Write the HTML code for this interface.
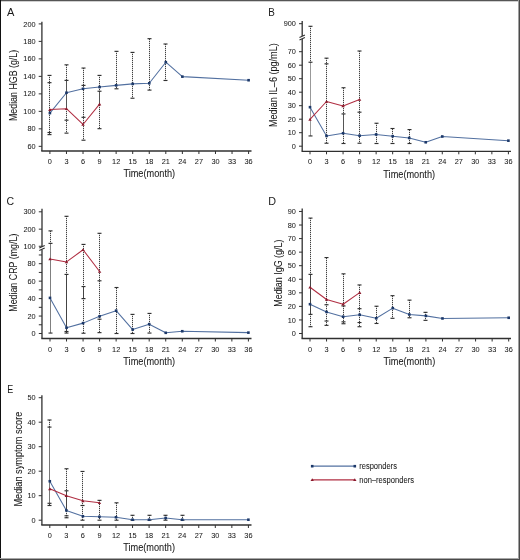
<!DOCTYPE html>
<html><head><meta charset="utf-8"><style>
html,body{margin:0;padding:0;background:#fff;}
svg{display:block;will-change:transform;}
text{font-family:"Liberation Sans", sans-serif;fill:#1a1a1a;stroke:#1a1a1a;stroke-width:0.06px;}
.lb{stroke-width:0;}
.tk{stroke-width:0.05px;}
</style></head><body>
<svg width="520" height="560" viewBox="0 0 520 560">
<rect x="0" y="0" width="520" height="560" fill="#fff"/>
<line x1="41.9" y1="21.7" x2="41.9" y2="151" stroke="#303030" stroke-width="1.3"/>
<line x1="41.25" y1="151" x2="251.5" y2="151" stroke="#303030" stroke-width="1.3"/>
<line x1="38.699999999999996" y1="146.33" x2="41.9" y2="146.33" stroke="#303030" stroke-width="1"/>
<text transform="translate(35.60,148.93) scale(0.92,1.0)" text-anchor="end" font-size="8.0" class="tk">60</text>
<line x1="38.699999999999996" y1="128.84" x2="41.9" y2="128.84" stroke="#303030" stroke-width="1"/>
<text transform="translate(35.60,131.44) scale(0.92,1.0)" text-anchor="end" font-size="8.0" class="tk">80</text>
<line x1="38.699999999999996" y1="111.35" x2="41.9" y2="111.35" stroke="#303030" stroke-width="1"/>
<text transform="translate(35.60,113.95) scale(0.92,1.0)" text-anchor="end" font-size="8.0" class="tk">100</text>
<line x1="38.699999999999996" y1="93.86" x2="41.9" y2="93.86" stroke="#303030" stroke-width="1"/>
<text transform="translate(35.60,96.46) scale(0.92,1.0)" text-anchor="end" font-size="8.0" class="tk">120</text>
<line x1="38.699999999999996" y1="76.37" x2="41.9" y2="76.37" stroke="#303030" stroke-width="1"/>
<text transform="translate(35.60,78.97) scale(0.92,1.0)" text-anchor="end" font-size="8.0" class="tk">140</text>
<line x1="38.699999999999996" y1="58.88" x2="41.9" y2="58.88" stroke="#303030" stroke-width="1"/>
<text transform="translate(35.60,61.48) scale(0.92,1.0)" text-anchor="end" font-size="8.0" class="tk">160</text>
<line x1="38.699999999999996" y1="41.39" x2="41.9" y2="41.39" stroke="#303030" stroke-width="1"/>
<text transform="translate(35.60,43.99) scale(0.92,1.0)" text-anchor="end" font-size="8.0" class="tk">180</text>
<line x1="38.699999999999996" y1="23.90" x2="41.9" y2="23.90" stroke="#303030" stroke-width="1"/>
<text transform="translate(35.60,26.50) scale(0.92,1.0)" text-anchor="end" font-size="8.0" class="tk">200</text>
<line x1="49.90" y1="151" x2="49.90" y2="154" stroke="#303030" stroke-width="1"/>
<text transform="translate(49.90,164.00) scale(0.92,1.0)" text-anchor="middle" font-size="8.0" class="tk">0</text>
<line x1="66.46" y1="151" x2="66.46" y2="154" stroke="#303030" stroke-width="1"/>
<text transform="translate(66.46,164.00) scale(0.92,1.0)" text-anchor="middle" font-size="8.0" class="tk">3</text>
<line x1="83.02" y1="151" x2="83.02" y2="154" stroke="#303030" stroke-width="1"/>
<text transform="translate(83.02,164.00) scale(0.92,1.0)" text-anchor="middle" font-size="8.0" class="tk">6</text>
<line x1="99.57" y1="151" x2="99.57" y2="154" stroke="#303030" stroke-width="1"/>
<text transform="translate(99.57,164.00) scale(0.92,1.0)" text-anchor="middle" font-size="8.0" class="tk">9</text>
<line x1="116.13" y1="151" x2="116.13" y2="154" stroke="#303030" stroke-width="1"/>
<text transform="translate(116.13,164.00) scale(0.92,1.0)" text-anchor="middle" font-size="8.0" class="tk">12</text>
<line x1="132.69" y1="151" x2="132.69" y2="154" stroke="#303030" stroke-width="1"/>
<text transform="translate(132.69,164.00) scale(0.92,1.0)" text-anchor="middle" font-size="8.0" class="tk">15</text>
<line x1="149.25" y1="151" x2="149.25" y2="154" stroke="#303030" stroke-width="1"/>
<text transform="translate(149.25,164.00) scale(0.92,1.0)" text-anchor="middle" font-size="8.0" class="tk">18</text>
<line x1="165.81" y1="151" x2="165.81" y2="154" stroke="#303030" stroke-width="1"/>
<text transform="translate(165.81,164.00) scale(0.92,1.0)" text-anchor="middle" font-size="8.0" class="tk">21</text>
<line x1="182.37" y1="151" x2="182.37" y2="154" stroke="#303030" stroke-width="1"/>
<text transform="translate(182.37,164.00) scale(0.92,1.0)" text-anchor="middle" font-size="8.0" class="tk">24</text>
<line x1="198.92" y1="151" x2="198.92" y2="154" stroke="#303030" stroke-width="1"/>
<text transform="translate(198.92,164.00) scale(0.92,1.0)" text-anchor="middle" font-size="8.0" class="tk">27</text>
<line x1="215.48" y1="151" x2="215.48" y2="154" stroke="#303030" stroke-width="1"/>
<text transform="translate(215.48,164.00) scale(0.92,1.0)" text-anchor="middle" font-size="8.0" class="tk">30</text>
<line x1="232.04" y1="151" x2="232.04" y2="154" stroke="#303030" stroke-width="1"/>
<text transform="translate(232.04,164.00) scale(0.92,1.0)" text-anchor="middle" font-size="8.0" class="tk">33</text>
<line x1="248.60" y1="151" x2="248.60" y2="154" stroke="#303030" stroke-width="1"/>
<text transform="translate(248.60,164.00) scale(0.92,1.0)" text-anchor="middle" font-size="8.0" class="tk">36</text>
<text transform="translate(149.25,177.30) scale(0.92,1.0)" text-anchor="middle" font-size="10.0">Time(month)</text>
<text transform="translate(16.9,85.45) rotate(-90)" text-anchor="middle" font-size="10.8" textLength="71.2" lengthAdjust="spacingAndGlyphs">Median HGB (g/L)</text>
<text x="7.0" y="15.8" class="lb" font-size="11.3" textLength="7.4" lengthAdjust="spacingAndGlyphs">A</text>
<line x1="49.5" y1="75" x2="49.5" y2="135" stroke="#d4d4d4" stroke-width="1"/>
<line x1="49.5" y1="75" x2="49.5" y2="135" stroke="#404040" stroke-width="1" stroke-dasharray="1 1"/>
<line x1="47.50" y1="134.61" x2="51.50" y2="134.61" stroke="#303030" stroke-width="1.15"/>
<line x1="47.50" y1="132.51" x2="51.50" y2="132.51" stroke="#303030" stroke-width="1.15"/>
<line x1="47.50" y1="82.67" x2="51.50" y2="82.67" stroke="#303030" stroke-width="1.15"/>
<line x1="47.50" y1="75.41" x2="51.50" y2="75.41" stroke="#303030" stroke-width="1.15"/>
<line x1="66.5" y1="65" x2="66.5" y2="133" stroke="#d4d4d4" stroke-width="1"/>
<line x1="66.5" y1="65" x2="66.5" y2="133" stroke="#404040" stroke-width="1" stroke-dasharray="1 1"/>
<line x1="66.5" y1="80.39" x2="66.5" y2="108.73" stroke="#555" stroke-width="1"/>
<line x1="64.50" y1="133.13" x2="68.50" y2="133.13" stroke="#303030" stroke-width="1.15"/>
<line x1="64.50" y1="120.18" x2="68.50" y2="120.18" stroke="#303030" stroke-width="1.15"/>
<line x1="64.50" y1="80.39" x2="68.50" y2="80.39" stroke="#303030" stroke-width="1.15"/>
<line x1="64.50" y1="64.83" x2="68.50" y2="64.83" stroke="#303030" stroke-width="1.15"/>
<line x1="83.5" y1="68" x2="83.5" y2="140" stroke="#d4d4d4" stroke-width="1"/>
<line x1="83.5" y1="68" x2="83.5" y2="140" stroke="#404040" stroke-width="1" stroke-dasharray="1 1"/>
<line x1="81.50" y1="140.21" x2="85.50" y2="140.21" stroke="#303030" stroke-width="1.15"/>
<line x1="81.50" y1="117.30" x2="85.50" y2="117.30" stroke="#303030" stroke-width="1.15"/>
<line x1="81.50" y1="85.38" x2="85.50" y2="85.38" stroke="#303030" stroke-width="1.15"/>
<line x1="81.50" y1="68.06" x2="85.50" y2="68.06" stroke="#303030" stroke-width="1.15"/>
<line x1="99.5" y1="75" x2="99.5" y2="129" stroke="#d4d4d4" stroke-width="1"/>
<line x1="99.5" y1="75" x2="99.5" y2="129" stroke="#404040" stroke-width="1" stroke-dasharray="1 1"/>
<line x1="99.5" y1="91.24" x2="99.5" y2="104.35" stroke="#555" stroke-width="1"/>
<line x1="97.50" y1="128.67" x2="101.50" y2="128.67" stroke="#303030" stroke-width="1.15"/>
<line x1="97.50" y1="91.24" x2="101.50" y2="91.24" stroke="#303030" stroke-width="1.15"/>
<line x1="97.50" y1="75.41" x2="101.50" y2="75.41" stroke="#303030" stroke-width="1.15"/>
<line x1="116.5" y1="51" x2="116.5" y2="89" stroke="#d4d4d4" stroke-width="1"/>
<line x1="116.5" y1="51" x2="116.5" y2="89" stroke="#404040" stroke-width="1" stroke-dasharray="1 1"/>
<line x1="114.50" y1="88.79" x2="118.50" y2="88.79" stroke="#303030" stroke-width="1.15"/>
<line x1="114.50" y1="51.36" x2="118.50" y2="51.36" stroke="#303030" stroke-width="1.15"/>
<line x1="132.5" y1="52" x2="132.5" y2="98" stroke="#d4d4d4" stroke-width="1"/>
<line x1="132.5" y1="52" x2="132.5" y2="98" stroke="#404040" stroke-width="1" stroke-dasharray="1 1"/>
<line x1="130.50" y1="98.23" x2="134.50" y2="98.23" stroke="#303030" stroke-width="1.15"/>
<line x1="130.50" y1="52.41" x2="134.50" y2="52.41" stroke="#303030" stroke-width="1.15"/>
<line x1="149.5" y1="39" x2="149.5" y2="90" stroke="#d4d4d4" stroke-width="1"/>
<line x1="149.5" y1="39" x2="149.5" y2="90" stroke="#404040" stroke-width="1" stroke-dasharray="1 1"/>
<line x1="147.50" y1="90.10" x2="151.50" y2="90.10" stroke="#303030" stroke-width="1.15"/>
<line x1="147.50" y1="38.68" x2="151.50" y2="38.68" stroke="#303030" stroke-width="1.15"/>
<line x1="165.5" y1="44" x2="165.5" y2="80" stroke="#d4d4d4" stroke-width="1"/>
<line x1="165.5" y1="44" x2="165.5" y2="80" stroke="#404040" stroke-width="1" stroke-dasharray="1 1"/>
<line x1="163.50" y1="80.48" x2="167.50" y2="80.48" stroke="#303030" stroke-width="1.15"/>
<line x1="163.50" y1="44.01" x2="167.50" y2="44.01" stroke="#303030" stroke-width="1.15"/>
<polyline points="49.90,113.10 66.46,92.72 83.02,88.79 99.57,87.04 116.13,85.38 132.69,83.89 149.25,83.28 165.81,62.20 182.37,76.63 248.60,80.22" fill="none" stroke="#5270a0" stroke-width="1.05" stroke-linejoin="round"/>
<rect x="48.60" y="111.80" width="2.6" height="2.6" fill="#1c3869"/>
<rect x="65.16" y="91.42" width="2.6" height="2.6" fill="#1c3869"/>
<rect x="81.72" y="87.49" width="2.6" height="2.6" fill="#1c3869"/>
<rect x="98.27" y="85.74" width="2.6" height="2.6" fill="#1c3869"/>
<rect x="114.83" y="84.08" width="2.6" height="2.6" fill="#1c3869"/>
<rect x="131.39" y="82.59" width="2.6" height="2.6" fill="#1c3869"/>
<rect x="147.95" y="81.98" width="2.6" height="2.6" fill="#1c3869"/>
<rect x="164.51" y="60.90" width="2.6" height="2.6" fill="#1c3869"/>
<rect x="181.07" y="75.33" width="2.6" height="2.6" fill="#1c3869"/>
<rect x="247.30" y="78.92" width="2.6" height="2.6" fill="#1c3869"/>
<polyline points="49.90,109.60 66.46,108.73 83.02,124.47 99.57,104.18" fill="none" stroke="#b02e42" stroke-width="1.05" stroke-linejoin="round"/>
<path d="M48.20,110.90 L49.90,108.00 L51.60,110.90Z" fill="#8a1a2c"/>
<path d="M64.76,110.03 L66.46,107.13 L68.16,110.03Z" fill="#8a1a2c"/>
<path d="M81.32,125.77 L83.02,122.87 L84.72,125.77Z" fill="#8a1a2c"/>
<path d="M97.87,105.48 L99.57,102.58 L101.27,105.48Z" fill="#8a1a2c"/>
<line x1="302.2" y1="21" x2="302.2" y2="36.1" stroke="#303030" stroke-width="1.3"/>
<line x1="302.2" y1="38.9" x2="302.2" y2="151.3" stroke="#303030" stroke-width="1.3"/>
<line x1="299.5" y1="37.45" x2="304.9" y2="35.05" stroke="#303030" stroke-width="1.1"/>
<line x1="299.5" y1="39.95" x2="304.9" y2="37.55" stroke="#303030" stroke-width="1.1"/>
<line x1="301.55" y1="151.3" x2="511" y2="151.3" stroke="#303030" stroke-width="1.3"/>
<line x1="299.0" y1="23.70" x2="302.2" y2="23.70" stroke="#303030" stroke-width="1"/>
<text transform="translate(295.90,26.30) scale(0.92,1.0)" text-anchor="end" font-size="8.0" class="tk">900</text>
<line x1="299.0" y1="146.20" x2="302.2" y2="146.20" stroke="#303030" stroke-width="1"/>
<text transform="translate(295.90,148.80) scale(0.92,1.0)" text-anchor="end" font-size="8.0" class="tk">0</text>
<line x1="299.0" y1="132.70" x2="302.2" y2="132.70" stroke="#303030" stroke-width="1"/>
<text transform="translate(295.90,135.30) scale(0.92,1.0)" text-anchor="end" font-size="8.0" class="tk">10</text>
<line x1="299.0" y1="119.20" x2="302.2" y2="119.20" stroke="#303030" stroke-width="1"/>
<text transform="translate(295.90,121.80) scale(0.92,1.0)" text-anchor="end" font-size="8.0" class="tk">20</text>
<line x1="299.0" y1="105.70" x2="302.2" y2="105.70" stroke="#303030" stroke-width="1"/>
<text transform="translate(295.90,108.30) scale(0.92,1.0)" text-anchor="end" font-size="8.0" class="tk">30</text>
<line x1="299.0" y1="92.20" x2="302.2" y2="92.20" stroke="#303030" stroke-width="1"/>
<text transform="translate(295.90,94.80) scale(0.92,1.0)" text-anchor="end" font-size="8.0" class="tk">40</text>
<line x1="299.0" y1="78.70" x2="302.2" y2="78.70" stroke="#303030" stroke-width="1"/>
<text transform="translate(295.90,81.30) scale(0.92,1.0)" text-anchor="end" font-size="8.0" class="tk">50</text>
<line x1="299.0" y1="65.20" x2="302.2" y2="65.20" stroke="#303030" stroke-width="1"/>
<text transform="translate(295.90,67.80) scale(0.92,1.0)" text-anchor="end" font-size="8.0" class="tk">60</text>
<line x1="299.0" y1="51.70" x2="302.2" y2="51.70" stroke="#303030" stroke-width="1"/>
<text transform="translate(295.90,54.30) scale(0.92,1.0)" text-anchor="end" font-size="8.0" class="tk">70</text>
<line x1="310.00" y1="151.3" x2="310.00" y2="154.3" stroke="#303030" stroke-width="1"/>
<text transform="translate(310.00,164.30) scale(0.92,1.0)" text-anchor="middle" font-size="8.0" class="tk">0</text>
<line x1="326.53" y1="151.3" x2="326.53" y2="154.3" stroke="#303030" stroke-width="1"/>
<text transform="translate(326.53,164.30) scale(0.92,1.0)" text-anchor="middle" font-size="8.0" class="tk">3</text>
<line x1="343.07" y1="151.3" x2="343.07" y2="154.3" stroke="#303030" stroke-width="1"/>
<text transform="translate(343.07,164.30) scale(0.92,1.0)" text-anchor="middle" font-size="8.0" class="tk">6</text>
<line x1="359.60" y1="151.3" x2="359.60" y2="154.3" stroke="#303030" stroke-width="1"/>
<text transform="translate(359.60,164.30) scale(0.92,1.0)" text-anchor="middle" font-size="8.0" class="tk">9</text>
<line x1="376.13" y1="151.3" x2="376.13" y2="154.3" stroke="#303030" stroke-width="1"/>
<text transform="translate(376.13,164.30) scale(0.92,1.0)" text-anchor="middle" font-size="8.0" class="tk">12</text>
<line x1="392.67" y1="151.3" x2="392.67" y2="154.3" stroke="#303030" stroke-width="1"/>
<text transform="translate(392.67,164.30) scale(0.92,1.0)" text-anchor="middle" font-size="8.0" class="tk">15</text>
<line x1="409.20" y1="151.3" x2="409.20" y2="154.3" stroke="#303030" stroke-width="1"/>
<text transform="translate(409.20,164.30) scale(0.92,1.0)" text-anchor="middle" font-size="8.0" class="tk">18</text>
<line x1="425.73" y1="151.3" x2="425.73" y2="154.3" stroke="#303030" stroke-width="1"/>
<text transform="translate(425.73,164.30) scale(0.92,1.0)" text-anchor="middle" font-size="8.0" class="tk">21</text>
<line x1="442.27" y1="151.3" x2="442.27" y2="154.3" stroke="#303030" stroke-width="1"/>
<text transform="translate(442.27,164.30) scale(0.92,1.0)" text-anchor="middle" font-size="8.0" class="tk">24</text>
<line x1="458.80" y1="151.3" x2="458.80" y2="154.3" stroke="#303030" stroke-width="1"/>
<text transform="translate(458.80,164.30) scale(0.92,1.0)" text-anchor="middle" font-size="8.0" class="tk">27</text>
<line x1="475.33" y1="151.3" x2="475.33" y2="154.3" stroke="#303030" stroke-width="1"/>
<text transform="translate(475.33,164.30) scale(0.92,1.0)" text-anchor="middle" font-size="8.0" class="tk">30</text>
<line x1="491.87" y1="151.3" x2="491.87" y2="154.3" stroke="#303030" stroke-width="1"/>
<text transform="translate(491.87,164.30) scale(0.92,1.0)" text-anchor="middle" font-size="8.0" class="tk">33</text>
<line x1="508.40" y1="151.3" x2="508.40" y2="154.3" stroke="#303030" stroke-width="1"/>
<text transform="translate(508.40,164.30) scale(0.92,1.0)" text-anchor="middle" font-size="8.0" class="tk">36</text>
<text transform="translate(409.20,177.60) scale(0.92,1.0)" text-anchor="middle" font-size="10.0">Time(month)</text>
<text transform="translate(277.1,85.15) rotate(-90)" text-anchor="middle" font-size="10.8" textLength="83.8" lengthAdjust="spacingAndGlyphs">Median IL–6 (pg/mL)</text>
<text x="268.3" y="15.7" class="lb" font-size="11.3" textLength="6.6" lengthAdjust="spacingAndGlyphs">B</text>
<line x1="310.5" y1="26" x2="310.5" y2="136" stroke="#d4d4d4" stroke-width="1"/>
<line x1="310.5" y1="26" x2="310.5" y2="136" stroke="#404040" stroke-width="1" stroke-dasharray="1 1"/>
<line x1="310.5" y1="62.23" x2="310.5" y2="135.94" stroke="#999" stroke-width="1"/>
<line x1="308.50" y1="135.94" x2="312.50" y2="135.94" stroke="#303030" stroke-width="1.15"/>
<line x1="308.50" y1="62.23" x2="312.50" y2="62.23" stroke="#303030" stroke-width="1.15"/>
<line x1="308.50" y1="26.30" x2="312.50" y2="26.30" stroke="#303030" stroke-width="1.15"/>
<line x1="326.5" y1="58" x2="326.5" y2="143" stroke="#d4d4d4" stroke-width="1"/>
<line x1="326.5" y1="58" x2="326.5" y2="143" stroke="#404040" stroke-width="1" stroke-dasharray="1 1"/>
<line x1="324.50" y1="143.23" x2="328.50" y2="143.23" stroke="#303030" stroke-width="1.15"/>
<line x1="324.50" y1="63.85" x2="328.50" y2="63.85" stroke="#303030" stroke-width="1.15"/>
<line x1="324.50" y1="58.18" x2="328.50" y2="58.18" stroke="#303030" stroke-width="1.15"/>
<line x1="343.5" y1="88" x2="343.5" y2="144" stroke="#d4d4d4" stroke-width="1"/>
<line x1="343.5" y1="88" x2="343.5" y2="144" stroke="#404040" stroke-width="1" stroke-dasharray="1 1"/>
<line x1="343.5" y1="113.93" x2="343.5" y2="133.24" stroke="#555" stroke-width="1"/>
<line x1="341.50" y1="143.50" x2="345.50" y2="143.50" stroke="#303030" stroke-width="1.15"/>
<line x1="341.50" y1="113.93" x2="345.50" y2="113.93" stroke="#303030" stroke-width="1.15"/>
<line x1="341.50" y1="87.74" x2="345.50" y2="87.74" stroke="#303030" stroke-width="1.15"/>
<line x1="359.5" y1="51" x2="359.5" y2="143" stroke="#d4d4d4" stroke-width="1"/>
<line x1="359.5" y1="51" x2="359.5" y2="143" stroke="#404040" stroke-width="1" stroke-dasharray="1 1"/>
<line x1="357.50" y1="143.23" x2="361.50" y2="143.23" stroke="#303030" stroke-width="1.15"/>
<line x1="357.50" y1="112.18" x2="361.50" y2="112.18" stroke="#303030" stroke-width="1.15"/>
<line x1="357.50" y1="51.02" x2="361.50" y2="51.02" stroke="#303030" stroke-width="1.15"/>
<line x1="376.5" y1="123" x2="376.5" y2="144" stroke="#d4d4d4" stroke-width="1"/>
<line x1="376.5" y1="123" x2="376.5" y2="144" stroke="#404040" stroke-width="1" stroke-dasharray="1 1"/>
<line x1="374.50" y1="143.50" x2="378.50" y2="143.50" stroke="#303030" stroke-width="1.15"/>
<line x1="374.50" y1="123.25" x2="378.50" y2="123.25" stroke="#303030" stroke-width="1.15"/>
<line x1="392.5" y1="129" x2="392.5" y2="144" stroke="#d4d4d4" stroke-width="1"/>
<line x1="392.5" y1="129" x2="392.5" y2="144" stroke="#404040" stroke-width="1" stroke-dasharray="1 1"/>
<line x1="390.50" y1="143.50" x2="394.50" y2="143.50" stroke="#303030" stroke-width="1.15"/>
<line x1="390.50" y1="128.51" x2="394.50" y2="128.51" stroke="#303030" stroke-width="1.15"/>
<line x1="409.5" y1="130" x2="409.5" y2="144" stroke="#d4d4d4" stroke-width="1"/>
<line x1="409.5" y1="130" x2="409.5" y2="144" stroke="#404040" stroke-width="1" stroke-dasharray="1 1"/>
<line x1="407.50" y1="143.50" x2="411.50" y2="143.50" stroke="#303030" stroke-width="1.15"/>
<line x1="407.50" y1="129.59" x2="411.50" y2="129.59" stroke="#303030" stroke-width="1.15"/>
<polyline points="310.00,107.18 326.53,135.94 343.07,133.24 359.60,135.67 376.13,134.45 392.67,136.21 409.20,137.96 425.73,142.28 442.27,136.48 508.40,140.66" fill="none" stroke="#5270a0" stroke-width="1.05" stroke-linejoin="round"/>
<rect x="308.70" y="105.88" width="2.6" height="2.6" fill="#1c3869"/>
<rect x="325.23" y="134.64" width="2.6" height="2.6" fill="#1c3869"/>
<rect x="341.77" y="131.94" width="2.6" height="2.6" fill="#1c3869"/>
<rect x="358.30" y="134.37" width="2.6" height="2.6" fill="#1c3869"/>
<rect x="374.83" y="133.15" width="2.6" height="2.6" fill="#1c3869"/>
<rect x="391.37" y="134.91" width="2.6" height="2.6" fill="#1c3869"/>
<rect x="407.90" y="136.66" width="2.6" height="2.6" fill="#1c3869"/>
<rect x="424.43" y="140.98" width="2.6" height="2.6" fill="#1c3869"/>
<rect x="440.97" y="135.18" width="2.6" height="2.6" fill="#1c3869"/>
<rect x="507.10" y="139.36" width="2.6" height="2.6" fill="#1c3869"/>
<polyline points="310.00,119.47 326.53,101.51 343.07,105.97 359.60,99.49" fill="none" stroke="#b02e42" stroke-width="1.05" stroke-linejoin="round"/>
<path d="M308.30,120.77 L310.00,117.87 L311.70,120.77Z" fill="#8a1a2c"/>
<path d="M324.83,102.81 L326.53,99.91 L328.23,102.81Z" fill="#8a1a2c"/>
<path d="M341.37,107.27 L343.07,104.37 L344.77,107.27Z" fill="#8a1a2c"/>
<path d="M357.90,100.79 L359.60,97.89 L361.30,100.79Z" fill="#8a1a2c"/>
<line x1="42" y1="208.7" x2="42" y2="246.6" stroke="#303030" stroke-width="1.3"/>
<line x1="42" y1="249.4" x2="42" y2="338.5" stroke="#303030" stroke-width="1.3"/>
<line x1="39.3" y1="247.95" x2="44.7" y2="245.55" stroke="#303030" stroke-width="1.1"/>
<line x1="39.3" y1="250.45" x2="44.7" y2="248.05" stroke="#303030" stroke-width="1.1"/>
<line x1="41.35" y1="338.5" x2="251.5" y2="338.5" stroke="#303030" stroke-width="1.3"/>
<line x1="38.8" y1="211.80" x2="42" y2="211.80" stroke="#303030" stroke-width="1"/>
<text transform="translate(35.70,214.40) scale(0.92,1.0)" text-anchor="end" font-size="8.0" class="tk">300</text>
<line x1="38.8" y1="229.15" x2="42" y2="229.15" stroke="#303030" stroke-width="1"/>
<text transform="translate(35.70,231.75) scale(0.92,1.0)" text-anchor="end" font-size="8.0" class="tk">200</text>
<line x1="38.8" y1="333.50" x2="42" y2="333.50" stroke="#303030" stroke-width="1"/>
<text transform="translate(35.70,336.10) scale(0.92,1.0)" text-anchor="end" font-size="8.0" class="tk">0</text>
<line x1="38.8" y1="324.77" x2="42" y2="324.77" stroke="#303030" stroke-width="1"/>
<line x1="38.8" y1="316.05" x2="42" y2="316.05" stroke="#303030" stroke-width="1"/>
<text transform="translate(35.70,318.65) scale(0.92,1.0)" text-anchor="end" font-size="8.0" class="tk">20</text>
<line x1="38.8" y1="307.32" x2="42" y2="307.32" stroke="#303030" stroke-width="1"/>
<line x1="38.8" y1="298.60" x2="42" y2="298.60" stroke="#303030" stroke-width="1"/>
<text transform="translate(35.70,301.20) scale(0.92,1.0)" text-anchor="end" font-size="8.0" class="tk">40</text>
<line x1="38.8" y1="289.88" x2="42" y2="289.88" stroke="#303030" stroke-width="1"/>
<line x1="38.8" y1="281.15" x2="42" y2="281.15" stroke="#303030" stroke-width="1"/>
<text transform="translate(35.70,283.75) scale(0.92,1.0)" text-anchor="end" font-size="8.0" class="tk">60</text>
<line x1="38.8" y1="272.43" x2="42" y2="272.43" stroke="#303030" stroke-width="1"/>
<line x1="38.8" y1="263.70" x2="42" y2="263.70" stroke="#303030" stroke-width="1"/>
<text transform="translate(35.70,266.30) scale(0.92,1.0)" text-anchor="end" font-size="8.0" class="tk">80</text>
<line x1="38.8" y1="254.97" x2="42" y2="254.97" stroke="#303030" stroke-width="1"/>
<line x1="38.8" y1="246.25" x2="42" y2="246.25" stroke="#303030" stroke-width="1"/>
<text transform="translate(35.70,248.85) scale(0.92,1.0)" text-anchor="end" font-size="8.0" class="tk">100</text>
<line x1="50.00" y1="338.5" x2="50.00" y2="341.5" stroke="#303030" stroke-width="1"/>
<text transform="translate(50.00,351.50) scale(0.92,1.0)" text-anchor="middle" font-size="8.0" class="tk">0</text>
<line x1="66.53" y1="338.5" x2="66.53" y2="341.5" stroke="#303030" stroke-width="1"/>
<text transform="translate(66.53,351.50) scale(0.92,1.0)" text-anchor="middle" font-size="8.0" class="tk">3</text>
<line x1="83.07" y1="338.5" x2="83.07" y2="341.5" stroke="#303030" stroke-width="1"/>
<text transform="translate(83.07,351.50) scale(0.92,1.0)" text-anchor="middle" font-size="8.0" class="tk">6</text>
<line x1="99.60" y1="338.5" x2="99.60" y2="341.5" stroke="#303030" stroke-width="1"/>
<text transform="translate(99.60,351.50) scale(0.92,1.0)" text-anchor="middle" font-size="8.0" class="tk">9</text>
<line x1="116.13" y1="338.5" x2="116.13" y2="341.5" stroke="#303030" stroke-width="1"/>
<text transform="translate(116.13,351.50) scale(0.92,1.0)" text-anchor="middle" font-size="8.0" class="tk">12</text>
<line x1="132.67" y1="338.5" x2="132.67" y2="341.5" stroke="#303030" stroke-width="1"/>
<text transform="translate(132.67,351.50) scale(0.92,1.0)" text-anchor="middle" font-size="8.0" class="tk">15</text>
<line x1="149.20" y1="338.5" x2="149.20" y2="341.5" stroke="#303030" stroke-width="1"/>
<text transform="translate(149.20,351.50) scale(0.92,1.0)" text-anchor="middle" font-size="8.0" class="tk">18</text>
<line x1="165.73" y1="338.5" x2="165.73" y2="341.5" stroke="#303030" stroke-width="1"/>
<text transform="translate(165.73,351.50) scale(0.92,1.0)" text-anchor="middle" font-size="8.0" class="tk">21</text>
<line x1="182.27" y1="338.5" x2="182.27" y2="341.5" stroke="#303030" stroke-width="1"/>
<text transform="translate(182.27,351.50) scale(0.92,1.0)" text-anchor="middle" font-size="8.0" class="tk">24</text>
<line x1="198.80" y1="338.5" x2="198.80" y2="341.5" stroke="#303030" stroke-width="1"/>
<text transform="translate(198.80,351.50) scale(0.92,1.0)" text-anchor="middle" font-size="8.0" class="tk">27</text>
<line x1="215.33" y1="338.5" x2="215.33" y2="341.5" stroke="#303030" stroke-width="1"/>
<text transform="translate(215.33,351.50) scale(0.92,1.0)" text-anchor="middle" font-size="8.0" class="tk">30</text>
<line x1="231.87" y1="338.5" x2="231.87" y2="341.5" stroke="#303030" stroke-width="1"/>
<text transform="translate(231.87,351.50) scale(0.92,1.0)" text-anchor="middle" font-size="8.0" class="tk">33</text>
<line x1="248.40" y1="338.5" x2="248.40" y2="341.5" stroke="#303030" stroke-width="1"/>
<text transform="translate(248.40,351.50) scale(0.92,1.0)" text-anchor="middle" font-size="8.0" class="tk">36</text>
<text transform="translate(149.20,364.80) scale(0.92,1.0)" text-anchor="middle" font-size="10.0">Time(month)</text>
<text transform="translate(16.7,272.7) rotate(-90)" text-anchor="middle" font-size="10.8" textLength="78.1" lengthAdjust="spacingAndGlyphs">Median CRP (mg/L)</text>
<text x="6.6" y="204.8" class="lb" font-size="11.3" textLength="7.6" lengthAdjust="spacingAndGlyphs">C</text>
<line x1="50.5" y1="231" x2="50.5" y2="333" stroke="#d4d4d4" stroke-width="1"/>
<line x1="50.5" y1="231" x2="50.5" y2="333" stroke="#404040" stroke-width="1" stroke-dasharray="1 1"/>
<line x1="50.5" y1="243.38" x2="50.5" y2="333.06" stroke="#808080" stroke-width="1"/>
<line x1="48.50" y1="333.06" x2="52.50" y2="333.06" stroke="#303030" stroke-width="1.15"/>
<line x1="48.50" y1="243.38" x2="52.50" y2="243.38" stroke="#303030" stroke-width="1.15"/>
<line x1="48.50" y1="230.88" x2="52.50" y2="230.88" stroke="#303030" stroke-width="1.15"/>
<line x1="66.5" y1="216" x2="66.5" y2="333" stroke="#d4d4d4" stroke-width="1"/>
<line x1="66.5" y1="216" x2="66.5" y2="333" stroke="#404040" stroke-width="1" stroke-dasharray="1 1"/>
<line x1="66.5" y1="274.43" x2="66.5" y2="331.49" stroke="#444" stroke-width="1"/>
<line x1="64.50" y1="333.06" x2="68.50" y2="333.06" stroke="#303030" stroke-width="1.15"/>
<line x1="64.50" y1="331.49" x2="68.50" y2="331.49" stroke="#303030" stroke-width="1.15"/>
<line x1="64.50" y1="274.43" x2="68.50" y2="274.43" stroke="#303030" stroke-width="1.15"/>
<line x1="64.50" y1="216.31" x2="68.50" y2="216.31" stroke="#303030" stroke-width="1.15"/>
<line x1="83.5" y1="244" x2="83.5" y2="333" stroke="#d4d4d4" stroke-width="1"/>
<line x1="83.5" y1="244" x2="83.5" y2="333" stroke="#404040" stroke-width="1" stroke-dasharray="1 1"/>
<line x1="83.5" y1="286.56" x2="83.5" y2="298.60" stroke="#444" stroke-width="1"/>
<line x1="81.50" y1="333.24" x2="85.50" y2="333.24" stroke="#303030" stroke-width="1.15"/>
<line x1="81.50" y1="298.60" x2="85.50" y2="298.60" stroke="#303030" stroke-width="1.15"/>
<line x1="81.50" y1="286.56" x2="85.50" y2="286.56" stroke="#303030" stroke-width="1.15"/>
<line x1="81.50" y1="244.42" x2="85.50" y2="244.42" stroke="#303030" stroke-width="1.15"/>
<line x1="99.5" y1="233" x2="99.5" y2="333" stroke="#d4d4d4" stroke-width="1"/>
<line x1="99.5" y1="233" x2="99.5" y2="333" stroke="#404040" stroke-width="1" stroke-dasharray="1 1"/>
<line x1="97.50" y1="332.63" x2="101.50" y2="332.63" stroke="#303030" stroke-width="1.15"/>
<line x1="97.50" y1="319.19" x2="101.50" y2="319.19" stroke="#303030" stroke-width="1.15"/>
<line x1="97.50" y1="280.80" x2="101.50" y2="280.80" stroke="#303030" stroke-width="1.15"/>
<line x1="97.50" y1="233.31" x2="101.50" y2="233.31" stroke="#303030" stroke-width="1.15"/>
<line x1="116.5" y1="288" x2="116.5" y2="334" stroke="#d4d4d4" stroke-width="1"/>
<line x1="116.5" y1="288" x2="116.5" y2="334" stroke="#404040" stroke-width="1" stroke-dasharray="1 1"/>
<line x1="114.50" y1="333.50" x2="118.50" y2="333.50" stroke="#303030" stroke-width="1.15"/>
<line x1="114.50" y1="287.52" x2="118.50" y2="287.52" stroke="#303030" stroke-width="1.15"/>
<line x1="132.5" y1="314" x2="132.5" y2="334" stroke="#d4d4d4" stroke-width="1"/>
<line x1="132.5" y1="314" x2="132.5" y2="334" stroke="#404040" stroke-width="1" stroke-dasharray="1 1"/>
<line x1="130.50" y1="333.50" x2="134.50" y2="333.50" stroke="#303030" stroke-width="1.15"/>
<line x1="130.50" y1="314.39" x2="134.50" y2="314.39" stroke="#303030" stroke-width="1.15"/>
<line x1="149.5" y1="313" x2="149.5" y2="333" stroke="#d4d4d4" stroke-width="1"/>
<line x1="149.5" y1="313" x2="149.5" y2="333" stroke="#404040" stroke-width="1" stroke-dasharray="1 1"/>
<line x1="147.50" y1="333.06" x2="151.50" y2="333.06" stroke="#303030" stroke-width="1.15"/>
<line x1="147.50" y1="313.43" x2="151.50" y2="313.43" stroke="#303030" stroke-width="1.15"/>
<polyline points="50.00,297.90 66.53,327.74 83.07,323.12 99.60,316.31 116.13,310.64 132.67,329.57 149.20,324.16 165.73,332.80 182.27,331.23 248.40,332.63" fill="none" stroke="#5270a0" stroke-width="1.05" stroke-linejoin="round"/>
<rect x="48.70" y="296.60" width="2.6" height="2.6" fill="#1c3869"/>
<rect x="65.23" y="326.44" width="2.6" height="2.6" fill="#1c3869"/>
<rect x="81.77" y="321.82" width="2.6" height="2.6" fill="#1c3869"/>
<rect x="98.30" y="315.01" width="2.6" height="2.6" fill="#1c3869"/>
<rect x="114.83" y="309.34" width="2.6" height="2.6" fill="#1c3869"/>
<rect x="131.37" y="328.27" width="2.6" height="2.6" fill="#1c3869"/>
<rect x="147.90" y="322.86" width="2.6" height="2.6" fill="#1c3869"/>
<rect x="164.43" y="331.50" width="2.6" height="2.6" fill="#1c3869"/>
<rect x="180.97" y="329.93" width="2.6" height="2.6" fill="#1c3869"/>
<rect x="247.10" y="331.33" width="2.6" height="2.6" fill="#1c3869"/>
<polyline points="50.00,258.99 66.53,261.95 83.07,249.74 99.60,271.55" fill="none" stroke="#b02e42" stroke-width="1.05" stroke-linejoin="round"/>
<path d="M48.30,260.29 L50.00,257.39 L51.70,260.29Z" fill="#8a1a2c"/>
<path d="M64.83,263.25 L66.53,260.35 L68.23,263.25Z" fill="#8a1a2c"/>
<path d="M81.37,251.04 L83.07,248.14 L84.77,251.04Z" fill="#8a1a2c"/>
<path d="M97.90,272.85 L99.60,269.95 L101.30,272.85Z" fill="#8a1a2c"/>
<line x1="302.2" y1="208.5" x2="302.2" y2="338.5" stroke="#303030" stroke-width="1.3"/>
<line x1="301.55" y1="338.5" x2="511" y2="338.5" stroke="#303030" stroke-width="1.3"/>
<line x1="299.0" y1="333.50" x2="302.2" y2="333.50" stroke="#303030" stroke-width="1"/>
<text transform="translate(295.90,336.10) scale(0.92,1.0)" text-anchor="end" font-size="8.0" class="tk">0</text>
<line x1="299.0" y1="319.94" x2="302.2" y2="319.94" stroke="#303030" stroke-width="1"/>
<text transform="translate(295.90,322.54) scale(0.92,1.0)" text-anchor="end" font-size="8.0" class="tk">10</text>
<line x1="299.0" y1="306.38" x2="302.2" y2="306.38" stroke="#303030" stroke-width="1"/>
<text transform="translate(295.90,308.98) scale(0.92,1.0)" text-anchor="end" font-size="8.0" class="tk">20</text>
<line x1="299.0" y1="292.82" x2="302.2" y2="292.82" stroke="#303030" stroke-width="1"/>
<text transform="translate(295.90,295.42) scale(0.92,1.0)" text-anchor="end" font-size="8.0" class="tk">30</text>
<line x1="299.0" y1="279.26" x2="302.2" y2="279.26" stroke="#303030" stroke-width="1"/>
<text transform="translate(295.90,281.86) scale(0.92,1.0)" text-anchor="end" font-size="8.0" class="tk">40</text>
<line x1="299.0" y1="265.70" x2="302.2" y2="265.70" stroke="#303030" stroke-width="1"/>
<text transform="translate(295.90,268.30) scale(0.92,1.0)" text-anchor="end" font-size="8.0" class="tk">50</text>
<line x1="299.0" y1="252.14" x2="302.2" y2="252.14" stroke="#303030" stroke-width="1"/>
<text transform="translate(295.90,254.74) scale(0.92,1.0)" text-anchor="end" font-size="8.0" class="tk">60</text>
<line x1="299.0" y1="238.58" x2="302.2" y2="238.58" stroke="#303030" stroke-width="1"/>
<text transform="translate(295.90,241.18) scale(0.92,1.0)" text-anchor="end" font-size="8.0" class="tk">70</text>
<line x1="299.0" y1="225.02" x2="302.2" y2="225.02" stroke="#303030" stroke-width="1"/>
<text transform="translate(295.90,227.62) scale(0.92,1.0)" text-anchor="end" font-size="8.0" class="tk">80</text>
<line x1="299.0" y1="211.46" x2="302.2" y2="211.46" stroke="#303030" stroke-width="1"/>
<text transform="translate(295.90,214.06) scale(0.92,1.0)" text-anchor="end" font-size="8.0" class="tk">90</text>
<line x1="310.00" y1="338.5" x2="310.00" y2="341.5" stroke="#303030" stroke-width="1"/>
<text transform="translate(310.00,351.50) scale(0.92,1.0)" text-anchor="middle" font-size="8.0" class="tk">0</text>
<line x1="326.56" y1="338.5" x2="326.56" y2="341.5" stroke="#303030" stroke-width="1"/>
<text transform="translate(326.56,351.50) scale(0.92,1.0)" text-anchor="middle" font-size="8.0" class="tk">3</text>
<line x1="343.12" y1="338.5" x2="343.12" y2="341.5" stroke="#303030" stroke-width="1"/>
<text transform="translate(343.12,351.50) scale(0.92,1.0)" text-anchor="middle" font-size="8.0" class="tk">6</text>
<line x1="359.68" y1="338.5" x2="359.68" y2="341.5" stroke="#303030" stroke-width="1"/>
<text transform="translate(359.68,351.50) scale(0.92,1.0)" text-anchor="middle" font-size="8.0" class="tk">9</text>
<line x1="376.23" y1="338.5" x2="376.23" y2="341.5" stroke="#303030" stroke-width="1"/>
<text transform="translate(376.23,351.50) scale(0.92,1.0)" text-anchor="middle" font-size="8.0" class="tk">12</text>
<line x1="392.79" y1="338.5" x2="392.79" y2="341.5" stroke="#303030" stroke-width="1"/>
<text transform="translate(392.79,351.50) scale(0.92,1.0)" text-anchor="middle" font-size="8.0" class="tk">15</text>
<line x1="409.35" y1="338.5" x2="409.35" y2="341.5" stroke="#303030" stroke-width="1"/>
<text transform="translate(409.35,351.50) scale(0.92,1.0)" text-anchor="middle" font-size="8.0" class="tk">18</text>
<line x1="425.91" y1="338.5" x2="425.91" y2="341.5" stroke="#303030" stroke-width="1"/>
<text transform="translate(425.91,351.50) scale(0.92,1.0)" text-anchor="middle" font-size="8.0" class="tk">21</text>
<line x1="442.47" y1="338.5" x2="442.47" y2="341.5" stroke="#303030" stroke-width="1"/>
<text transform="translate(442.47,351.50) scale(0.92,1.0)" text-anchor="middle" font-size="8.0" class="tk">24</text>
<line x1="459.02" y1="338.5" x2="459.02" y2="341.5" stroke="#303030" stroke-width="1"/>
<text transform="translate(459.02,351.50) scale(0.92,1.0)" text-anchor="middle" font-size="8.0" class="tk">27</text>
<line x1="475.58" y1="338.5" x2="475.58" y2="341.5" stroke="#303030" stroke-width="1"/>
<text transform="translate(475.58,351.50) scale(0.92,1.0)" text-anchor="middle" font-size="8.0" class="tk">30</text>
<line x1="492.14" y1="338.5" x2="492.14" y2="341.5" stroke="#303030" stroke-width="1"/>
<text transform="translate(492.14,351.50) scale(0.92,1.0)" text-anchor="middle" font-size="8.0" class="tk">33</text>
<line x1="508.70" y1="338.5" x2="508.70" y2="341.5" stroke="#303030" stroke-width="1"/>
<text transform="translate(508.70,351.50) scale(0.92,1.0)" text-anchor="middle" font-size="8.0" class="tk">36</text>
<text transform="translate(409.35,364.80) scale(0.92,1.0)" text-anchor="middle" font-size="10.0">Time(month)</text>
<text transform="translate(281.5,273.1) rotate(-90)" text-anchor="middle" font-size="10.8" textLength="67.3" lengthAdjust="spacingAndGlyphs">Median IgG (g/L)</text>
<text x="268.3" y="204.8" class="lb" font-size="11.3" textLength="7.8" lengthAdjust="spacingAndGlyphs">D</text>
<line x1="310.5" y1="218" x2="310.5" y2="327" stroke="#d4d4d4" stroke-width="1"/>
<line x1="310.5" y1="218" x2="310.5" y2="327" stroke="#404040" stroke-width="1" stroke-dasharray="1 1"/>
<line x1="310.5" y1="274.38" x2="310.5" y2="314.38" stroke="#444" stroke-width="1"/>
<line x1="308.50" y1="326.72" x2="312.50" y2="326.72" stroke="#303030" stroke-width="1.15"/>
<line x1="308.50" y1="314.38" x2="312.50" y2="314.38" stroke="#303030" stroke-width="1.15"/>
<line x1="308.50" y1="274.38" x2="312.50" y2="274.38" stroke="#303030" stroke-width="1.15"/>
<line x1="308.50" y1="218.10" x2="312.50" y2="218.10" stroke="#303030" stroke-width="1.15"/>
<line x1="326.5" y1="258" x2="326.5" y2="325" stroke="#d4d4d4" stroke-width="1"/>
<line x1="326.5" y1="258" x2="326.5" y2="325" stroke="#404040" stroke-width="1" stroke-dasharray="1 1"/>
<line x1="324.50" y1="325.36" x2="328.50" y2="325.36" stroke="#303030" stroke-width="1.15"/>
<line x1="324.50" y1="321.02" x2="328.50" y2="321.02" stroke="#303030" stroke-width="1.15"/>
<line x1="324.50" y1="304.75" x2="328.50" y2="304.75" stroke="#303030" stroke-width="1.15"/>
<line x1="324.50" y1="257.56" x2="328.50" y2="257.56" stroke="#303030" stroke-width="1.15"/>
<line x1="343.5" y1="274" x2="343.5" y2="324" stroke="#d4d4d4" stroke-width="1"/>
<line x1="343.5" y1="274" x2="343.5" y2="324" stroke="#404040" stroke-width="1" stroke-dasharray="1 1"/>
<line x1="341.50" y1="323.74" x2="345.50" y2="323.74" stroke="#303030" stroke-width="1.15"/>
<line x1="341.50" y1="321.84" x2="345.50" y2="321.84" stroke="#303030" stroke-width="1.15"/>
<line x1="341.50" y1="305.97" x2="345.50" y2="305.97" stroke="#303030" stroke-width="1.15"/>
<line x1="341.50" y1="273.84" x2="345.50" y2="273.84" stroke="#303030" stroke-width="1.15"/>
<line x1="359.5" y1="285" x2="359.5" y2="327" stroke="#d4d4d4" stroke-width="1"/>
<line x1="359.5" y1="285" x2="359.5" y2="327" stroke="#404040" stroke-width="1" stroke-dasharray="1 1"/>
<line x1="357.50" y1="326.72" x2="361.50" y2="326.72" stroke="#303030" stroke-width="1.15"/>
<line x1="357.50" y1="322.52" x2="361.50" y2="322.52" stroke="#303030" stroke-width="1.15"/>
<line x1="357.50" y1="308.69" x2="361.50" y2="308.69" stroke="#303030" stroke-width="1.15"/>
<line x1="357.50" y1="284.96" x2="361.50" y2="284.96" stroke="#303030" stroke-width="1.15"/>
<line x1="376.5" y1="306" x2="376.5" y2="323" stroke="#d4d4d4" stroke-width="1"/>
<line x1="376.5" y1="306" x2="376.5" y2="323" stroke="#404040" stroke-width="1" stroke-dasharray="1 1"/>
<line x1="374.50" y1="323.47" x2="378.50" y2="323.47" stroke="#303030" stroke-width="1.15"/>
<line x1="374.50" y1="306.24" x2="378.50" y2="306.24" stroke="#303030" stroke-width="1.15"/>
<line x1="392.5" y1="296" x2="392.5" y2="318" stroke="#d4d4d4" stroke-width="1"/>
<line x1="392.5" y1="296" x2="392.5" y2="318" stroke="#404040" stroke-width="1" stroke-dasharray="1 1"/>
<line x1="390.50" y1="318.31" x2="394.50" y2="318.31" stroke="#303030" stroke-width="1.15"/>
<line x1="390.50" y1="295.67" x2="394.50" y2="295.67" stroke="#303030" stroke-width="1.15"/>
<line x1="409.5" y1="300" x2="409.5" y2="318" stroke="#d4d4d4" stroke-width="1"/>
<line x1="409.5" y1="300" x2="409.5" y2="318" stroke="#404040" stroke-width="1" stroke-dasharray="1 1"/>
<line x1="407.50" y1="317.77" x2="411.50" y2="317.77" stroke="#303030" stroke-width="1.15"/>
<line x1="407.50" y1="300.14" x2="411.50" y2="300.14" stroke="#303030" stroke-width="1.15"/>
<line x1="425.5" y1="312" x2="425.5" y2="320" stroke="#d4d4d4" stroke-width="1"/>
<line x1="425.5" y1="312" x2="425.5" y2="320" stroke="#404040" stroke-width="1" stroke-dasharray="1 1"/>
<line x1="423.50" y1="320.35" x2="427.50" y2="320.35" stroke="#303030" stroke-width="1.15"/>
<line x1="423.50" y1="312.35" x2="427.50" y2="312.35" stroke="#303030" stroke-width="1.15"/>
<polyline points="310.00,304.21 326.56,311.94 343.12,316.69 359.68,314.79 376.23,318.31 392.79,308.14 409.35,314.52 425.91,315.87 442.47,318.45 508.70,317.77" fill="none" stroke="#5270a0" stroke-width="1.05" stroke-linejoin="round"/>
<rect x="308.70" y="302.91" width="2.6" height="2.6" fill="#1c3869"/>
<rect x="325.26" y="310.64" width="2.6" height="2.6" fill="#1c3869"/>
<rect x="341.82" y="315.39" width="2.6" height="2.6" fill="#1c3869"/>
<rect x="358.38" y="313.49" width="2.6" height="2.6" fill="#1c3869"/>
<rect x="374.93" y="317.01" width="2.6" height="2.6" fill="#1c3869"/>
<rect x="391.49" y="306.84" width="2.6" height="2.6" fill="#1c3869"/>
<rect x="408.05" y="313.22" width="2.6" height="2.6" fill="#1c3869"/>
<rect x="424.61" y="314.57" width="2.6" height="2.6" fill="#1c3869"/>
<rect x="441.17" y="317.15" width="2.6" height="2.6" fill="#1c3869"/>
<rect x="507.40" y="316.47" width="2.6" height="2.6" fill="#1c3869"/>
<polyline points="310.00,287.26 326.56,299.46 343.12,304.21 359.68,292.68" fill="none" stroke="#b02e42" stroke-width="1.05" stroke-linejoin="round"/>
<path d="M308.30,288.56 L310.00,285.66 L311.70,288.56Z" fill="#8a1a2c"/>
<path d="M324.86,300.76 L326.56,297.86 L328.26,300.76Z" fill="#8a1a2c"/>
<path d="M341.42,305.51 L343.12,302.61 L344.82,305.51Z" fill="#8a1a2c"/>
<path d="M357.98,293.98 L359.68,291.08 L361.38,293.98Z" fill="#8a1a2c"/>
<line x1="41.9" y1="395.2" x2="41.9" y2="525" stroke="#303030" stroke-width="1.3"/>
<line x1="41.25" y1="525" x2="251.5" y2="525" stroke="#303030" stroke-width="1.3"/>
<line x1="38.699999999999996" y1="520.20" x2="41.9" y2="520.20" stroke="#303030" stroke-width="1"/>
<text transform="translate(35.60,522.80) scale(0.92,1.0)" text-anchor="end" font-size="8.0" class="tk">0</text>
<line x1="38.699999999999996" y1="495.70" x2="41.9" y2="495.70" stroke="#303030" stroke-width="1"/>
<text transform="translate(35.60,498.30) scale(0.92,1.0)" text-anchor="end" font-size="8.0" class="tk">10</text>
<line x1="38.699999999999996" y1="471.20" x2="41.9" y2="471.20" stroke="#303030" stroke-width="1"/>
<text transform="translate(35.60,473.80) scale(0.92,1.0)" text-anchor="end" font-size="8.0" class="tk">20</text>
<line x1="38.699999999999996" y1="446.70" x2="41.9" y2="446.70" stroke="#303030" stroke-width="1"/>
<text transform="translate(35.60,449.30) scale(0.92,1.0)" text-anchor="end" font-size="8.0" class="tk">30</text>
<line x1="38.699999999999996" y1="422.20" x2="41.9" y2="422.20" stroke="#303030" stroke-width="1"/>
<text transform="translate(35.60,424.80) scale(0.92,1.0)" text-anchor="end" font-size="8.0" class="tk">40</text>
<line x1="38.699999999999996" y1="397.70" x2="41.9" y2="397.70" stroke="#303030" stroke-width="1"/>
<text transform="translate(35.60,400.30) scale(0.92,1.0)" text-anchor="end" font-size="8.0" class="tk">50</text>
<line x1="49.80" y1="525" x2="49.80" y2="528" stroke="#303030" stroke-width="1"/>
<text transform="translate(49.80,538.00) scale(0.92,1.0)" text-anchor="middle" font-size="8.0" class="tk">0</text>
<line x1="66.35" y1="525" x2="66.35" y2="528" stroke="#303030" stroke-width="1"/>
<text transform="translate(66.35,538.00) scale(0.92,1.0)" text-anchor="middle" font-size="8.0" class="tk">3</text>
<line x1="82.90" y1="525" x2="82.90" y2="528" stroke="#303030" stroke-width="1"/>
<text transform="translate(82.90,538.00) scale(0.92,1.0)" text-anchor="middle" font-size="8.0" class="tk">6</text>
<line x1="99.45" y1="525" x2="99.45" y2="528" stroke="#303030" stroke-width="1"/>
<text transform="translate(99.45,538.00) scale(0.92,1.0)" text-anchor="middle" font-size="8.0" class="tk">9</text>
<line x1="116.00" y1="525" x2="116.00" y2="528" stroke="#303030" stroke-width="1"/>
<text transform="translate(116.00,538.00) scale(0.92,1.0)" text-anchor="middle" font-size="8.0" class="tk">12</text>
<line x1="132.55" y1="525" x2="132.55" y2="528" stroke="#303030" stroke-width="1"/>
<text transform="translate(132.55,538.00) scale(0.92,1.0)" text-anchor="middle" font-size="8.0" class="tk">15</text>
<line x1="149.10" y1="525" x2="149.10" y2="528" stroke="#303030" stroke-width="1"/>
<text transform="translate(149.10,538.00) scale(0.92,1.0)" text-anchor="middle" font-size="8.0" class="tk">18</text>
<line x1="165.65" y1="525" x2="165.65" y2="528" stroke="#303030" stroke-width="1"/>
<text transform="translate(165.65,538.00) scale(0.92,1.0)" text-anchor="middle" font-size="8.0" class="tk">21</text>
<line x1="182.20" y1="525" x2="182.20" y2="528" stroke="#303030" stroke-width="1"/>
<text transform="translate(182.20,538.00) scale(0.92,1.0)" text-anchor="middle" font-size="8.0" class="tk">24</text>
<line x1="198.75" y1="525" x2="198.75" y2="528" stroke="#303030" stroke-width="1"/>
<text transform="translate(198.75,538.00) scale(0.92,1.0)" text-anchor="middle" font-size="8.0" class="tk">27</text>
<line x1="215.30" y1="525" x2="215.30" y2="528" stroke="#303030" stroke-width="1"/>
<text transform="translate(215.30,538.00) scale(0.92,1.0)" text-anchor="middle" font-size="8.0" class="tk">30</text>
<line x1="231.85" y1="525" x2="231.85" y2="528" stroke="#303030" stroke-width="1"/>
<text transform="translate(231.85,538.00) scale(0.92,1.0)" text-anchor="middle" font-size="8.0" class="tk">33</text>
<line x1="248.40" y1="525" x2="248.40" y2="528" stroke="#303030" stroke-width="1"/>
<text transform="translate(248.40,538.00) scale(0.92,1.0)" text-anchor="middle" font-size="8.0" class="tk">36</text>
<text transform="translate(149.10,551.30) scale(0.92,1.0)" text-anchor="middle" font-size="10.0">Time(month)</text>
<text transform="translate(21.5,459.1) rotate(-90)" text-anchor="middle" font-size="10.8" textLength="94.9" lengthAdjust="spacingAndGlyphs">Median symptom score</text>
<text x="7.2" y="392.8" class="lb" font-size="11.3" textLength="6.0" lengthAdjust="spacingAndGlyphs">E</text>
<line x1="49.5" y1="420" x2="49.5" y2="506" stroke="#d4d4d4" stroke-width="1"/>
<line x1="49.5" y1="420" x2="49.5" y2="506" stroke="#404040" stroke-width="1" stroke-dasharray="1 1"/>
<line x1="49.5" y1="427.10" x2="49.5" y2="503.30" stroke="#777" stroke-width="1"/>
<line x1="47.50" y1="505.50" x2="51.50" y2="505.50" stroke="#303030" stroke-width="1.15"/>
<line x1="47.50" y1="503.30" x2="51.50" y2="503.30" stroke="#303030" stroke-width="1.15"/>
<line x1="47.50" y1="427.10" x2="51.50" y2="427.10" stroke="#303030" stroke-width="1.15"/>
<line x1="47.50" y1="420.00" x2="51.50" y2="420.00" stroke="#303030" stroke-width="1.15"/>
<line x1="66.5" y1="469" x2="66.5" y2="518" stroke="#d4d4d4" stroke-width="1"/>
<line x1="66.5" y1="469" x2="66.5" y2="518" stroke="#404040" stroke-width="1" stroke-dasharray="1 1"/>
<line x1="66.5" y1="490.80" x2="66.5" y2="510.40" stroke="#444" stroke-width="1"/>
<line x1="64.50" y1="517.75" x2="68.50" y2="517.75" stroke="#303030" stroke-width="1.15"/>
<line x1="64.50" y1="515.79" x2="68.50" y2="515.79" stroke="#303030" stroke-width="1.15"/>
<line x1="64.50" y1="490.80" x2="68.50" y2="490.80" stroke="#303030" stroke-width="1.15"/>
<line x1="64.50" y1="468.75" x2="68.50" y2="468.75" stroke="#303030" stroke-width="1.15"/>
<line x1="82.5" y1="471" x2="82.5" y2="520" stroke="#d4d4d4" stroke-width="1"/>
<line x1="82.5" y1="471" x2="82.5" y2="520" stroke="#404040" stroke-width="1" stroke-dasharray="1 1"/>
<line x1="80.50" y1="520.20" x2="84.50" y2="520.20" stroke="#303030" stroke-width="1.15"/>
<line x1="80.50" y1="505.50" x2="84.50" y2="505.50" stroke="#303030" stroke-width="1.15"/>
<line x1="80.50" y1="471.45" x2="84.50" y2="471.45" stroke="#303030" stroke-width="1.15"/>
<line x1="99.5" y1="500" x2="99.5" y2="520" stroke="#d4d4d4" stroke-width="1"/>
<line x1="99.5" y1="500" x2="99.5" y2="520" stroke="#404040" stroke-width="1" stroke-dasharray="1 1"/>
<line x1="97.50" y1="520.20" x2="101.50" y2="520.20" stroke="#303030" stroke-width="1.15"/>
<line x1="97.50" y1="500.36" x2="101.50" y2="500.36" stroke="#303030" stroke-width="1.15"/>
<line x1="116.5" y1="503" x2="116.5" y2="520" stroke="#d4d4d4" stroke-width="1"/>
<line x1="116.5" y1="503" x2="116.5" y2="520" stroke="#404040" stroke-width="1" stroke-dasharray="1 1"/>
<line x1="114.50" y1="520.20" x2="118.50" y2="520.20" stroke="#303030" stroke-width="1.15"/>
<line x1="114.50" y1="502.81" x2="118.50" y2="502.81" stroke="#303030" stroke-width="1.15"/>
<line x1="132.5" y1="515" x2="132.5" y2="520" stroke="#d4d4d4" stroke-width="1"/>
<line x1="132.5" y1="515" x2="132.5" y2="520" stroke="#404040" stroke-width="1" stroke-dasharray="1 1"/>
<line x1="130.50" y1="520.20" x2="134.50" y2="520.20" stroke="#303030" stroke-width="1.15"/>
<line x1="130.50" y1="515.30" x2="134.50" y2="515.30" stroke="#303030" stroke-width="1.15"/>
<line x1="149.5" y1="515" x2="149.5" y2="520" stroke="#d4d4d4" stroke-width="1"/>
<line x1="149.5" y1="515" x2="149.5" y2="520" stroke="#404040" stroke-width="1" stroke-dasharray="1 1"/>
<line x1="147.50" y1="520.20" x2="151.50" y2="520.20" stroke="#303030" stroke-width="1.15"/>
<line x1="147.50" y1="515.30" x2="151.50" y2="515.30" stroke="#303030" stroke-width="1.15"/>
<line x1="165.5" y1="515" x2="165.5" y2="520" stroke="#d4d4d4" stroke-width="1"/>
<line x1="165.5" y1="515" x2="165.5" y2="520" stroke="#404040" stroke-width="1" stroke-dasharray="1 1"/>
<line x1="163.50" y1="520.20" x2="167.50" y2="520.20" stroke="#303030" stroke-width="1.15"/>
<line x1="163.50" y1="515.30" x2="167.50" y2="515.30" stroke="#303030" stroke-width="1.15"/>
<line x1="182.5" y1="515" x2="182.5" y2="520" stroke="#d4d4d4" stroke-width="1"/>
<line x1="182.5" y1="515" x2="182.5" y2="520" stroke="#404040" stroke-width="1" stroke-dasharray="1 1"/>
<line x1="180.50" y1="520.20" x2="184.50" y2="520.20" stroke="#303030" stroke-width="1.15"/>
<line x1="180.50" y1="515.30" x2="184.50" y2="515.30" stroke="#303030" stroke-width="1.15"/>
<polyline points="49.80,481.25 66.35,510.40 82.90,516.28 99.45,516.77 116.00,517.26 132.55,519.71 149.10,519.71 165.65,518.00 182.20,519.71 248.40,519.71" fill="none" stroke="#5270a0" stroke-width="1.05" stroke-linejoin="round"/>
<rect x="48.50" y="479.95" width="2.6" height="2.6" fill="#1c3869"/>
<rect x="65.05" y="509.10" width="2.6" height="2.6" fill="#1c3869"/>
<rect x="81.60" y="514.98" width="2.6" height="2.6" fill="#1c3869"/>
<rect x="98.15" y="515.47" width="2.6" height="2.6" fill="#1c3869"/>
<rect x="114.70" y="515.96" width="2.6" height="2.6" fill="#1c3869"/>
<rect x="131.25" y="518.41" width="2.6" height="2.6" fill="#1c3869"/>
<rect x="147.80" y="518.41" width="2.6" height="2.6" fill="#1c3869"/>
<rect x="164.35" y="516.70" width="2.6" height="2.6" fill="#1c3869"/>
<rect x="180.90" y="518.41" width="2.6" height="2.6" fill="#1c3869"/>
<rect x="247.10" y="518.41" width="2.6" height="2.6" fill="#1c3869"/>
<polyline points="49.80,488.84 66.35,495.70 82.90,500.85 99.45,502.81" fill="none" stroke="#b02e42" stroke-width="1.05" stroke-linejoin="round"/>
<path d="M48.10,490.14 L49.80,487.24 L51.50,490.14Z" fill="#8a1a2c"/>
<path d="M64.65,497.00 L66.35,494.10 L68.05,497.00Z" fill="#8a1a2c"/>
<path d="M81.20,502.15 L82.90,499.25 L84.60,502.15Z" fill="#8a1a2c"/>
<path d="M97.75,504.11 L99.45,501.21 L101.15,504.11Z" fill="#8a1a2c"/>

<line x1="312.2" y1="466.2" x2="354.8" y2="466.2" stroke="#5270a0" stroke-width="1.2"/>
<rect x="310.9" y="464.9" width="2.6" height="2.6" fill="#1c3869"/>
<rect x="353.5" y="464.9" width="2.6" height="2.6" fill="#1c3869"/>
<text transform="translate(359.20,469.00) scale(0.77,1.0)" text-anchor="start" font-size="9.8">responders</text>
<line x1="312.2" y1="479.8" x2="354.8" y2="479.8" stroke="#b02e42" stroke-width="1.2"/>
<path d="M310.5,481.1 L312.2,478.2 L313.9,481.1Z" fill="#8a1a2c"/>
<path d="M353.1,481.1 L354.8,478.2 L356.5,481.1Z" fill="#8a1a2c"/>
<text transform="translate(359.20,482.60) scale(0.775,1.0)" text-anchor="start" font-size="9.8">non–responders</text>

<g shape-rendering="crispEdges">
<rect x="0" y="0" width="520" height="1" fill="#555"/>
<rect x="1" y="1" width="518" height="1" fill="#d0d0d0"/>
<rect x="0" y="0" width="1" height="560" fill="#111"/>
<rect x="518" y="0" width="1" height="560" fill="#a0a0a0"/>
<rect x="519" y="0" width="1" height="560" fill="#4a4a4a"/>
<rect x="0" y="558" width="519" height="1" fill="#a8a8a8"/>
<rect x="1" y="559" width="518" height="1" fill="#4a4a4a"/>
</g>
</svg></body></html>
